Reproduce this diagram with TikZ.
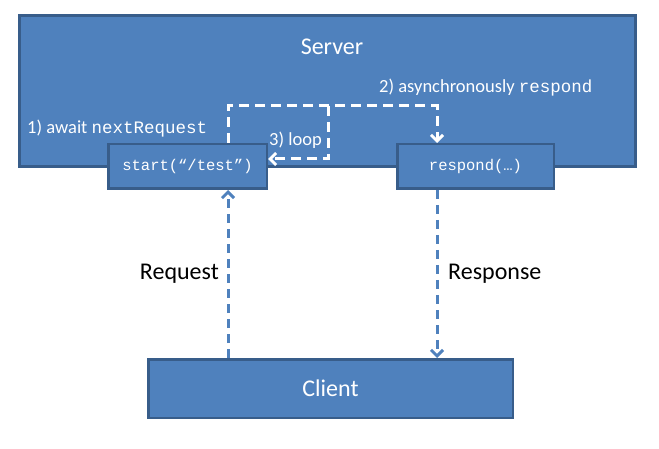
\documentclass[tikz,border=0pt]{standalone}
\usepackage{fontspec}
\setmainfont{Carlito}
\setmonofont{Liberation Mono}
\usetikzlibrary{arrows.meta}
\definecolor{boxblue}{HTML}{4F81BD}
\definecolor{boxedge}{HTML}{385D8A}
\newcommand{\codeword}[1]{{\fontsize{17.5}{21}\selectfont\ttfamily #1}}

\begin{document}
\begin{tikzpicture}[x=1pt, y=-1pt, >={Straight Barb[length=6pt,width=12pt]},
		blok/.style={draw=boxedge, fill=boxblue, line width=2.5pt, text=white, inner sep=0pt},
		bigtxt/.style={font=\fontsize{24}{28}\selectfont, inner sep=0pt},
		lbltxt/.style={font=\fontsize{18.5}{22}\selectfont, text=white, inner sep=0pt},
		codetxt/.style={font=\fontsize{15.5}{18}\selectfont\ttfamily},
		bluedash/.style={draw=boxblue, line width=3pt, dash pattern=on 9pt off 6pt},
		whitedash/.style={draw=white, line width=3pt, dash pattern=on 10pt off 6pt}]
	\useasboundingbox (0,0) rectangle (659,449);
	
	% --- Riquadri ---
	\node[blok, minimum width=616pt, minimum height=151pt] (server) at (327.5,91) {};
	\node[bigtxt, text=white] (srvname) at (332,47) {Server};
	\node[blok, codetxt, minimum width=158.5pt, minimum height=44.5pt] (start) at (187.5,166.5) {start(“/test”)};
	\node[blok, codetxt, minimum width=156.5pt, minimum height=44.5pt] (respond) at (475.5,166.5) {respond(…)};
	\node[blok, bigtxt, minimum width=364.5pt, minimum height=58.5pt] (client) at (330.5,388.5) {Client};
	
	% --- Etichette ---
	\node[lbltxt, anchor=west] (await) at (27,129) {1) await \codeword{nextRequest}};
	\node[lbltxt, anchor=west] (async) at (379,88) {2) asynchronously \codeword{respond}};
	\node[lbltxt, anchor=west] (loop) at (269,140) {3) loop};
	\node[bigtxt, anchor=east] (req) at (219,274) {Request};
	\node[bigtxt, anchor=west] (rsp) at (448,274) {Response};
	
	% --- Frecce ---
	\coordinate (reqx) at (228,0);
	\coordinate (rspx) at (437,0);
	\coordinate (loopx) at (328,0);
	\coordinate (topy) at (0,106);
	\coordinate (loopy) at (0,159);
	
	\draw[bluedash, ->] (client.north -| reqx) -- (start.south -| reqx);
	\draw[bluedash, ->] (respond.south -| rspx) -- (client.north -| rspx);
	\draw[whitedash, ->] (start.north -| reqx) -- (reqx |- topy) -- (rspx |- topy) -- (respond.north -| rspx);
	\draw[whitedash, ->] (loopx |- topy) -- (loopx |- loopy) -- (start.east |- loopy);
\end{tikzpicture}
\end{document}
